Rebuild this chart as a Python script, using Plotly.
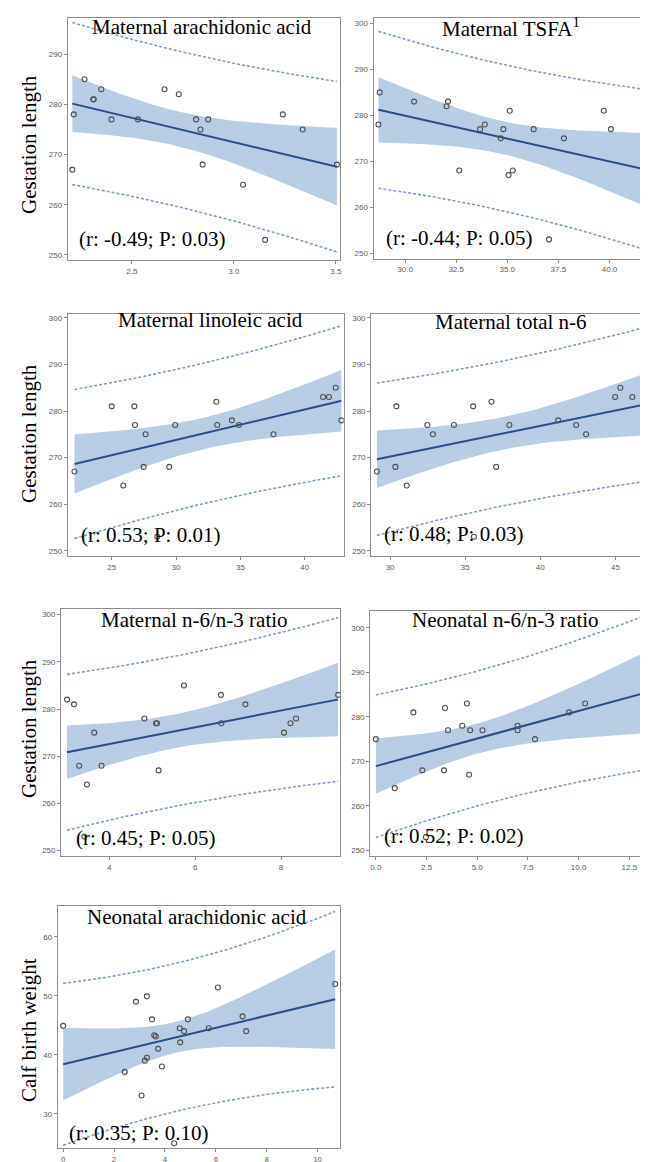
import numpy as np
import plotly.graph_objects as go

W, H = 648, 1162

# ---------------- data ----------------
mat_ara_x = [2.208, 2.215, 2.268, 2.311, 2.313, 2.35, 2.40, 2.53, 2.66, 2.73, 2.815, 2.836, 2.847, 2.874, 3.045, 3.153, 3.24, 3.337, 3.505]
mat_ara_y = [267, 278, 285, 281, 281, 283, 277, 277, 283, 282, 277, 275, 268, 277, 264, 253, 278, 275, 268]

tsfa_x = [28.70, 28.76, 30.44, 32.03, 32.10, 32.65, 33.67, 33.90, 34.68, 34.81, 35.12, 35.06, 35.27, 36.29, 37.04, 37.77, 39.72, 40.07, 41.77]
tsfa_y = [278, 285, 283, 282, 283, 268, 277, 278, 275, 277, 281, 267, 268, 277, 253, 275, 281, 277, 264]

lino_x = [22.11, 25.0, 25.90, 26.76, 26.81, 27.48, 27.63, 28.54, 29.47, 29.93, 33.13, 33.20, 34.34, 34.88, 37.57, 41.42, 41.88, 42.40, 42.84]
lino_y = [267, 281, 264, 281, 277, 268, 275, 253, 268, 277, 282, 277, 278, 277, 275, 283, 283, 285, 278]

n6_x = [29.12, 30.35, 30.42, 31.11, 32.48, 32.85, 34.25, 35.53, 35.58, 36.75, 37.06, 37.94, 41.19, 42.39, 43.05, 44.98, 45.33, 46.13, 46.97]
n6_y = [267, 268, 281, 264, 277, 275, 277, 281, 253, 282, 268, 277, 278, 277, 275, 283, 285, 283, 278]

mratio_x = [3.017, 3.18, 3.30, 3.42, 3.48, 3.65, 3.82, 4.82, 5.09, 5.11, 5.15, 5.74, 6.60, 6.61, 7.17, 8.07, 8.22, 8.35, 9.33]
mratio_y = [282, 281, 268, 253, 264, 275, 268, 278, 277, 277, 267, 285, 283, 277, 281, 275, 277, 278, 283]

nratio_x = [0.0, 0.93, 1.85, 2.29, 2.47, 3.36, 3.41, 3.56, 4.26, 4.49, 4.60, 4.65, 5.26, 6.99, 6.99, 7.85, 9.53, 10.32, 13.29]
nratio_y = [275, 264, 281, 268, 253, 268, 282, 277, 278, 283, 267, 277, 277, 278, 277, 275, 281, 283, 285]

nara_x = [0.0, 2.42, 2.86, 3.08, 3.21, 3.29, 3.29, 3.49, 3.58, 3.64, 3.73, 3.88, 4.36, 4.58, 4.60, 4.75, 4.90, 5.72, 6.08, 7.05, 7.19, 10.69]
nara_y = [44.9, 37.1, 49.0, 33.1, 39.0, 39.5, 49.9, 46.0, 43.3, 43.1, 41.0, 38.0, 25.0, 44.5, 42.1, 44.0, 46.0, 44.5, 51.4, 46.5, 44.0, 52.0]

titles = ["Maternal arachidonic acid", "Maternal TSFA<sup>1</sup>", "Maternal linoleic acid",
          "Maternal total n-6", "Maternal n-6/n-3 ratio", "Neonatal n-6/n-3 ratio",
          "Neonatal arachidonic acid"]
stats = ["(r: -0.49; P: 0.03)", "(r: -0.44; P: 0.05)", "(r: 0.53; P: 0.01)", "(r: 0.48; P: 0.03)",
         "(r: 0.45; P: 0.05)", "(r: 0.52; P: 0.02)", "(r: 0.35; P: 0.10)"]
ytitles = ["Gestation length", "Gestation length", "Gestation length", "Calf birth weight"]

x_ticks = [[2.5, 3.0, 3.5], [30.0, 32.5, 35.0, 37.5, 40.0], [25, 30, 35, 40], [30, 35, 40, 45],
           [4, 6, 8], [0.0, 2.5, 5.0, 7.5, 10.0, 12.5], [0, 2, 4, 6, 8, 10]]
x_fmt = [".1f", ".1f", "d", "d", "d", ".1f", "d"]
y_ticks = [[250, 260, 270, 280, 290], [250, 260, 270, 280, 290, 300], [250, 260, 270, 280, 290, 300],
           [250, 260, 270, 280, 290, 300], [250, 260, 270, 280, 290, 300],
           [250, 260, 270, 280, 290, 300], [30, 40, 50, 60]]

datasets = [(mat_ara_x, mat_ara_y), (tsfa_x, tsfa_y), (lino_x, lino_y), (n6_x, n6_y),
            (mratio_x, mratio_y), (nratio_x, nratio_y), (nara_x, nara_y)]

# ---------------- layout geometry (pixels) ----------------
boxes = [(60, 333, 10, 252), (366.7, 645, 10, 250.7), (60, 336.7, 305.7, 548.3),
         (364.3, 645, 305.7, 548.3), (53.3, 333.3, 601, 848.3), (363.3, 645, 603.3, 848.3),
         (50, 333.3, 898.3, 1140)]
xranges = [(2.186, 3.52), (28.46, 42.03), (21.59, 43.02), (28.74, 47.37), (2.88, 9.38),
           (-0.28, 13.57), (-0.21, 10.89)]
yranges = [(249, 297.2), (248.8, 301.2), (248.8, 300.9), (248.8, 300.9), (248.8, 301.2),
           (248.7, 303.7), (24.2, 65.16)]
title_pos = [(195, 19), (505, 20), (203, 312), (505, 314), (187, 612), (499, 612), (190, 909)]
stat_pos = [(144, 231), (452, 230), (143, 527), (447, 526), (138, 830), (447, 828), (131, 1125)]
ytitle_pos = [(21, 136), (21, 425), (21, 720), (21, 1022)]

T975 = {17: 2.110, 18: 2.101, 19: 2.093, 20: 2.086, 21: 2.080}

FILL = "rgba(184,204,228,1)"
LINE = "#2b4d8c"
DASH = "#7d9bd0"

fig = go.Figure()


def px_x(v):
    return v / W


def px_y(v):
    return 1 - v / H


for i, ((xs, ys), box) in enumerate(zip(datasets, boxes)):
    k = "" if i == 0 else str(i + 1)
    xa, ya = "x" + k, "y" + k
    x = np.array(xs, float)
    y = np.array(ys, float)
    n = len(x)
    b1, b0 = np.polyfit(x, y, 1)
    resid = y - (b0 + b1 * x)
    s = np.sqrt(np.sum(resid ** 2) / (n - 2))
    xbar = x.mean()
    sxx = np.sum((x - xbar) ** 2)
    t = T975[n - 2]
    g = np.linspace(x.min(), x.max(), 80)
    yh = b0 + b1 * g
    se_m = s * np.sqrt(1 / n + (g - xbar) ** 2 / sxx)
    se_p = s * np.sqrt(1 + 1 / n + (g - xbar) ** 2 / sxx)
    # 95% confidence band
    fig.add_trace(go.Scatter(x=np.concatenate([g, g[::-1]]),
                             y=np.concatenate([yh + t * se_m, (yh - t * se_m)[::-1]]),
                             fill="toself", fillcolor=FILL, line=dict(width=0),
                             mode="lines", hoverinfo="skip", showlegend=False,
                             xaxis=xa, yaxis=ya))
    # 95% prediction limits
    for sign in (1, -1):
        fig.add_trace(go.Scatter(x=g, y=yh + sign * t * se_p, mode="lines",
                                 line=dict(color=DASH, width=1.6, dash="3px,2px"),
                                 showlegend=False, xaxis=xa, yaxis=ya))
    # fit line
    fig.add_trace(go.Scatter(x=g, y=yh, mode="lines", line=dict(color=LINE, width=2),
                             showlegend=False, xaxis=xa, yaxis=ya))
    # observations
    fig.add_trace(go.Scatter(x=x, y=y, mode="markers",
                             marker=dict(symbol="circle-open", size=5, color="#505050",
                                         line=dict(width=1.1)),
                             showlegend=False, xaxis=xa, yaxis=ya))

    x0, x1, y0, y1 = box
    axis_common = dict(showgrid=False, zeroline=False, showline=True, linecolor="#8c8c8c",
                       linewidth=1, mirror=True, ticks="outside", ticklen=3,
                       tickcolor="#8c8c8c", tickfont=dict(family="Liberation Sans", size=8,
                                                          color="#5a5a5a"))
    fig.layout["xaxis" + k] = dict(domain=[px_x(x0), px_x(x1)], range=list(xranges[i]),
                                   anchor=ya, tickvals=x_ticks[i], tickformat=x_fmt[i],
                                   **axis_common)
    fig.layout["yaxis" + k] = dict(domain=[px_y(y1), px_y(y0)], range=list(yranges[i]),
                                   anchor=xa, tickvals=y_ticks[i], **axis_common)

annotations = []
for (tx, ty), txt in zip(title_pos, titles):
    annotations.append(dict(x=px_x(tx), y=px_y(ty), xref="paper", yref="paper", text=txt,
                            showarrow=False, xanchor="center", yanchor="middle",
                            font=dict(family="Liberation Serif", size=21, color="black")))
for (tx, ty), txt in zip(stat_pos, stats):
    annotations.append(dict(x=px_x(tx), y=px_y(ty), xref="paper", yref="paper", text=txt,
                            showarrow=False, xanchor="center", yanchor="middle",
                            font=dict(family="Liberation Serif", size=21, color="black")))
for (tx, ty), txt in zip(ytitle_pos, ytitles):
    annotations.append(dict(x=px_x(tx), y=px_y(ty), xref="paper", yref="paper", text=txt,
                            showarrow=False, xanchor="center", yanchor="middle", textangle=-90,
                            font=dict(family="Liberation Serif", size=21, color="black")))

fig.update_layout(width=W, height=H, margin=dict(l=0, r=0, t=0, b=0),
                  paper_bgcolor="white", plot_bgcolor="white", annotations=annotations)

fig.write_html("out.html")
